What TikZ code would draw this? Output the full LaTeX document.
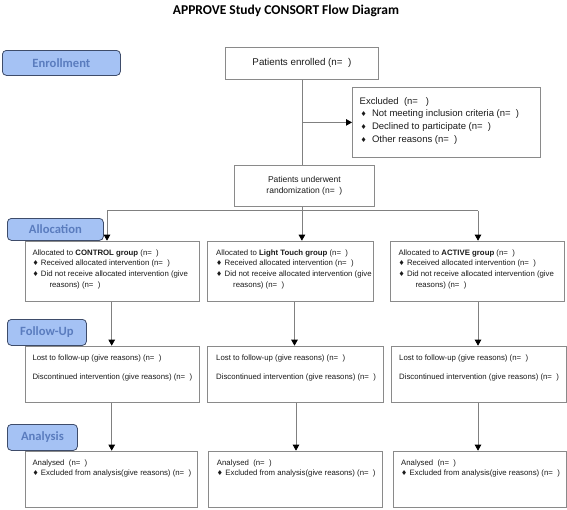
\documentclass[tikz,border=0pt]{standalone}
\usepackage{fontspec}
\setmainfont{Liberation Sans}
\newfontfamily\calib{Carlito}
\newfontfamily\symf{DejaVu Sans}
\usetikzlibrary{arrows.meta}
\definecolor{linegray}{HTML}{808080}
\definecolor{boxgray}{HTML}{8A8A8A}
\definecolor{lblfill}{HTML}{A5C2F4}
\definecolor{lbledge}{HTML}{3E4C6A}
\definecolor{lbltext}{HTML}{5A7CBE}
\definecolor{txtc}{HTML}{1A1A1A}
\newcommand\bul{{\symf\fontsize{6.8}{6.8}\selectfont ♦}\hspace{2.4pt}}
\newcommand\bulx{\hspace*{1pt}{\symf\fontsize{6.8}{6.8}\selectfont ♦}\hspace{5.3pt}}
\begin{document}
\begin{tikzpicture}[x=1pt,y=-1pt,
  box/.style={draw=boxgray, line width=0.8pt, inner sep=0pt, anchor=north west, text=txtc},
  lbl/.style={draw=lbledge, fill=lblfill, rounded corners=4pt, line width=0.8pt, text=lbltext,
    font=\calib\bfseries\fontsize{12.6}{13}\selectfont, inner sep=0pt, anchor=north west},
  txtsm/.style={anchor=north west, inner sep=0pt, align=left, text=txtc, font=\fontsize{7.8}{10.7}\selectfont},
  conn/.style={draw=linegray, line width=0.8pt},
  arr/.style={conn, -{Triangle[width=6.5pt,length=6pt,color=black,fill=black]}},
]
\useasboundingbox (0,0) rectangle (567,509);

% title
\node[font=\calib\bfseries\fontsize{13.5}{14}\selectfont, anchor=base] (title) at (286,14.5) {APPROVE Study CONSORT Flow Diagram};

% stage labels
\node[lbl, minimum width=118pt, minimum height=25pt] (lenr) at (2,50) {Enrollment};
\node[lbl, minimum width=96pt, minimum height=22pt] (lall) at (7,218) {Allocation};
\node[lbl, minimum width=79pt, minimum height=26pt] (lfu) at (7,319) {Follow-Up};
\node[lbl, minimum width=70pt, minimum height=26pt] (lan) at (7,424) {Analysis};

% enrollment
\node[box, minimum width=153pt, minimum height=32pt, font=\fontsize{9.8}{12}\selectfont] (enr) at (225,47) {Patients enrolled (n=\ \ )};
\node[box, minimum width=188pt, minimum height=70pt] (exc) at (352,87) {};
\node[txtsm, font=\fontsize{9.5}{12.7}\selectfont] (exct) at (359.5,95.1) {\strut Excluded\ \ (n=\ \ \ )\\
\bulx Not meeting inclusion criteria (n=\ \ )\\
\bulx Declined to participate (n=\ \ )\\
\bulx Other reasons (n=\ \ )};
\node[box, minimum width=140pt, minimum height=40.7pt, align=center, font=\fontsize{8.5}{10.7}\selectfont] (rand) at (234,165) {Patients underwent\\randomization (n=\ \ )};

% allocation
\node[box, minimum width=174pt, minimum height=60pt] (a1) at (25,240.7) {};
\node[box, minimum width=166pt, minimum height=60pt] (a2) at (207,240.7) {};
\node[box, minimum width=174pt, minimum height=60pt] (a3) at (390,240.7) {};
\node[txtsm] (a1t) at (32.3,247.6) {\strut Allocated to \textbf{CONTROL group} (n=\ \ )\\
\bul Received allocated intervention (n=\ \ )\\
\bul Did not receive allocated intervention (give\\
\hspace*{17pt}reasons) (n=\ \ )};
\node[txtsm] (a2t) at (216,247.6) {\strut Allocated to \textbf{Light Touch group} (n=\ \ )\\
\bul Received allocated intervention (n=\ \ )\\
\bul Did not receive allocated intervention (give\\
\hspace*{17pt}reasons) (n=\ \ )};
\node[txtsm] (a3t) at (398.3,247.6) {\strut Allocated to \textbf{ACTIVE group} (n=\ \ )\\
\bul Received allocated intervention (n=\ \ )\\
\bul Did not receive allocated intervention (give\\
\hspace*{17pt}reasons) (n=\ \ )};

% follow-up
\node[box, minimum width=174pt, minimum height=56pt] (f1) at (25,345.7) {};
\node[box, minimum width=175.7pt, minimum height=56pt] (f2) at (207,345.7) {};
\node[box, minimum width=175.3pt, minimum height=56pt] (f3) at (390.7,345.7) {};
\node[txtsm] (f1t) at (32.3,352.5) {\strut Lost to follow-up (give reasons) (n=\ \ )\\[8.7pt]
Discontinued intervention (give reasons) (n=\ \ )};
\node[txtsm] (f2t) at (216,352.5) {\strut Lost to follow-up (give reasons) (n=\ \ )\\[8.7pt]
Discontinued intervention (give reasons) (n=\ \ )};
\node[txtsm] (f3t) at (399,352.5) {\strut Lost to follow-up (give reasons) (n=\ \ )\\[8.7pt]
Discontinued intervention (give reasons) (n=\ \ )};

% analysis
\node[box, minimum width=172pt, minimum height=56pt] (n1) at (25,450.7) {};
\node[box, minimum width=173.7pt, minimum height=56pt] (n2) at (208,450.7) {};
\node[box, minimum width=173.3pt, minimum height=56pt] (n3) at (392.7,450.7) {};
\node[txtsm] (n1t) at (32.3,457.5) {\strut Analysed\ \ (n=\ \ )\\
\bul Excluded from analysis(give reasons) (n=\ \ )};
\node[txtsm] (n2t) at (216.7,457.5) {\strut Analysed\ \ (n=\ \ )\\
\bul Excluded from analysis(give reasons) (n=\ \ )};
\node[txtsm] (n3t) at (401,457.5) {\strut Analysed\ \ (n=\ \ )\\
\bul Excluded from analysis(give reasons) (n=\ \ )};

% connector coordinates
\coordinate (bl) at (107,210.7);
\coordinate (br) at (478,210.7);
\coordinate (c1) at (111.7,0);
\coordinate (c2a) at (294.5,0);
\coordinate (c2b) at (296,0);
\coordinate (c3) at (478,0);

% connectors
\draw[conn] (enr.south) -- (enr.south |- rand.north);
\draw[arr] (enr.south |- exc.west) -- (exc.west);
\draw[arr] (enr.south |- rand.south) -- (enr.south |- a2.north);
\draw[conn] (bl) -- (br);
\draw[arr] (bl) -- (bl |- a1.north);
\draw[arr] (br) -- (br |- a3.north);
\draw[arr] (c1 |- a1.south) -- (c1 |- f1.north);
\draw[arr] (c2a |- a2.south) -- (c2a |- f2.north);
\draw[arr] (c3 |- a3.south) -- (c3 |- f3.north);
\draw[arr] (c1 |- f1.south) -- (c1 |- n1.north);
\draw[arr] (c2b |- f2.south) -- (c2b |- n2.north);
\draw[arr] (c3 |- f3.south) -- (c3 |- n3.north);
\end{tikzpicture}
\end{document}
